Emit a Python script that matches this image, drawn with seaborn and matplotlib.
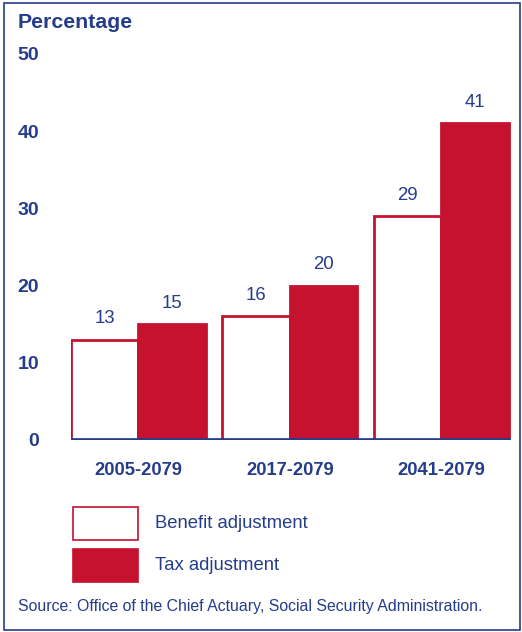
import matplotlib
matplotlib.use("Agg")
import matplotlib.pyplot as plt
import matplotlib.patches as mpatches
import seaborn as sns
import pandas as pd

periods = ["2005-2079", "2017-2079", "2041-2079"]
series = ["Benefit adjustment", "Tax adjustment"]
benefit = [13, 16, 29]
tax = [15, 20, 41]
yticks = [0, 10, 20, 30, 40, 50]

NAVY = "#253C8B"
RED = "#C4122F"

df = pd.DataFrame({
    "period": periods * 2,
    "series": [series[0]] * 3 + [series[1]] * 3,
    "value": benefit + tax,
})

sns.set_theme(style="white")
plt.rcParams["font.family"] = ["Liberation Sans", "DejaVu Sans"]

fig = plt.figure(figsize=(5.22, 6.32), dpi=100)
W, H = 522, 632
ax = fig.add_axes([71 / W, (H - 440) / H, 440 / W, 386 / H])

sns.barplot(data=df, x="period", y="value", hue="series", hue_order=series,
            palette=["white", RED], saturation=1, edgecolor=RED, linewidth=2,
            width=0.89, gap=0, legend=False, ax=ax, errorbar=None)

ax.set_ylim(0, 50)
ax.set_xlim(-0.445, 2.46)
for s in ax.spines.values():
    s.set_visible(False)
ax.axhline(0, color=NAVY, lw=3.4, zorder=5, solid_capstyle="butt")

ax.set_yticks(yticks)
ax.set_yticklabels([str(v) for v in yticks], fontsize=14, fontweight="bold", color=NAVY)
ax.tick_params(axis="y", length=0, pad=23)
ax.tick_params(axis="x", length=0, pad=16, labelsize=13.2, labelcolor=NAVY)
for t in ax.get_xticklabels():
    t.set_fontweight("bold")
ax.set_xlabel("")
ax.set_ylabel("")

# value labels above every bar
for cont in ax.containers:
    ax.bar_label(cont, labels=[f"{v:g}" for v in cont.datavalues], padding=9,
                 fontsize=13.4, color=NAVY)

fig.text(18 / W, 1 - 23 / H, "Percentage", fontsize=15.3, fontweight="bold",
         color=NAVY, va="center", ha="left")

# legend swatches
fig.patches.append(mpatches.Rectangle((73 / W, 1 - 540 / H), 65 / W, 33 / H,
                                      transform=fig.transFigure, facecolor="white",
                                      edgecolor=RED, lw=1.2))
fig.patches.append(mpatches.Rectangle((73 / W, 1 - 582 / H), 65 / W, 33 / H,
                                      transform=fig.transFigure, facecolor=RED,
                                      edgecolor=RED, lw=1.2))
fig.text(155 / W, 1 - 523 / H, series[0], fontsize=13.3, color=NAVY, va="center")
fig.text(155 / W, 1 - 565 / H, series[1], fontsize=13.3, color=NAVY, va="center")

fig.text(18 / W, 1 - 607 / H,
         "Source: Office of the Chief Actuary, Social Security Administration.",
         fontsize=11.4, color=NAVY, va="center", ha="left")

# frame around the figure
fig.patches.append(mpatches.Rectangle((4 / W, 2 / H), 516 / W, 627 / H,
                                      transform=fig.transFigure, fill=False,
                                      edgecolor=NAVY, lw=1.2))

fig.savefig("out.png", dpi=100)
